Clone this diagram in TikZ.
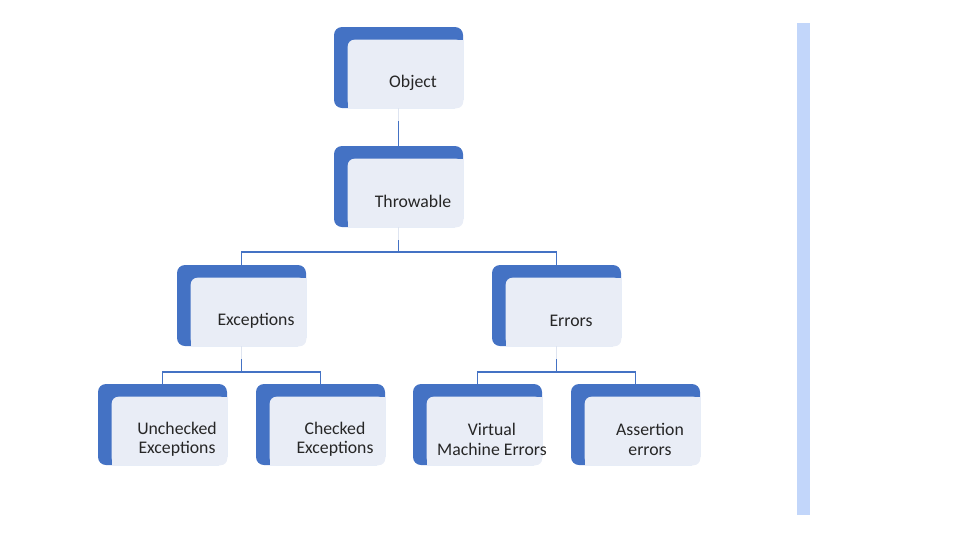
\documentclass[tikz,border=0pt]{standalone}
\usepackage{fontspec}
\setmainfont{Carlito}
\usetikzlibrary{calc}
\definecolor{boxblue}{RGB}{68,114,196}
\definecolor{boxfill}{RGB}{233,237,246}
\definecolor{barblue}{RGB}{194,214,250}
\definecolor{stubgray}{RGB}{222,228,240}
\definecolor{txtgray}{RGB}{38,38,38}
\tikzset{
  outerbox/.style={fill=boxblue, rounded corners=6pt, minimum width=96.75pt, minimum height=60.75pt, inner sep=0pt},
  innerbox/.style={fill=boxfill, rounded corners=5pt},
  boxtext/.style={text=txtgray, align=center, inner sep=0.75pt, font=\fontsize{13.3}{14.5}\selectfont},
  link/.style={draw=boxblue, line width=1.2pt},
  stub/.style={draw=stubgray, line width=1.2pt},
}
% name, centre, label
\newcommand{\hierbox}[3]{%
  \node[outerbox] (#1) at (#2) {};
  \fill[innerbox] ($(#1.north west)+(14,13)$) rectangle (#1.south east);
  \fill[boxfill] ($(#1.north east)+(-8,13)$) rectangle ($(#1.north east)+(0,21)$);
  \fill[boxfill] ($(#1.south west)+(14,0)$) rectangle ($(#1.south west)+(22,-8)$);
  \node[boxtext] (#1-t) at ($(#1.center)+(14.5,15)$) {#3};
}
\begin{document}
\begin{tikzpicture}[x=0.75pt,y=0.75pt,yscale=-1,xscale=1]
    \useasboundingbox (0,0) rectangle (960,540);
    % Boxes
    \hierbox{obj}{398.5,67.5}{Object}
    \hierbox{thr}{398.5,186.5}{Throwable}
    \hierbox{exc}{241.5,305.5}{Exceptions}
    \hierbox{err}{556.5,305.5}{Errors}
    \hierbox{unc}{162.5,424.5}{Unchecked\\Exceptions}
    \hierbox{chk}{320.5,424.5}{Checked\\Exceptions}
    \hierbox{vme}{477.5,424.5}{Virtual\\Machine Errors}
    \hierbox{ase}{635.5,424.5}{Assertion\\errors}
    % Connectors
    \draw[stub] (obj.south) -- ++(0,13) coordinate (obj-j);
    \draw[link] (obj-j) -- (thr.north);
    \draw[stub] (thr.south) -- ++(0,13) coordinate (thr-j);
    \draw[link] (thr-j) -- ++(0,12) -| (exc.north);
    \draw[link] (thr-j) -- ++(0,12) -| (err.north);
    \draw[stub] (exc.south) -- ++(0,13) coordinate (exc-j);
    \draw[link] (exc-j) -- ++(0,13) -| (unc.north);
    \draw[link] (exc-j) -- ++(0,13) -| (chk.north);
    \draw[stub] (err.south) -- ++(0,13) coordinate (err-j);
    \draw[link] (err-j) -- ++(0,13) -| (vme.north);
    \draw[link] (err-j) -- ++(0,13) -| (ase.north);
    % Side bar
    \fill[barblue] (797,23) rectangle (810,515);
\end{tikzpicture}
\end{document}
